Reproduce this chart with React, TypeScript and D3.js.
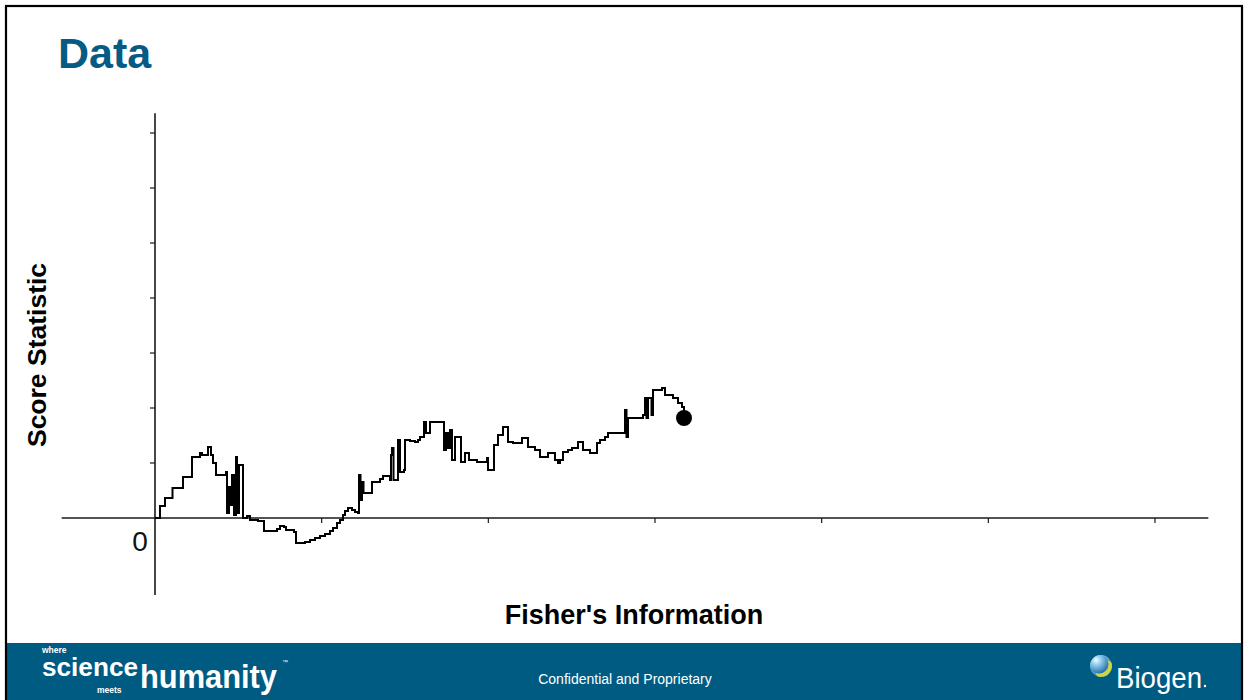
import React from "react";
import * as d3 from "d3";

// Fisher's information (x) and score statistic (y), step path
const info = [
  0, 0.3, 0.6, 1.05, 1.68, 2.22, 2.7, 2.82, 3.18, 3.36, 3.48, 3.66, 4.26, 4.32, 4.44, 4.5, 4.62, 4.74, 4.86, 4.92,
  5.04, 5.28, 5.52, 5.7, 6.18, 6.54, 7.32, 7.5, 7.74, 7.86, 8.34, 8.46, 9.0, 9.3, 9.6, 9.9, 10.2, 10.5, 10.68, 10.92,
  11.1, 11.28, 11.4, 11.58, 11.82, 12.0, 12.18, 12.24, 12.33, 12.42, 12.51, 13.02, 13.5, 13.68, 14.1, 14.16, 14.22, 14.31, 14.58, 14.7,
  14.94, 15.0, 15.3, 15.6, 15.78, 15.9, 16.14, 16.26, 16.5, 17.34, 17.46, 17.58, 17.7, 17.82, 18.0, 18.36, 18.6, 18.84, 19.32, 19.92,
  19.98, 20.34, 20.58, 20.88, 21.18, 21.48, 22.02, 22.38, 22.8, 23.1, 23.58, 24.0, 24.18, 24.3, 24.48, 24.78, 25.02, 25.38, 25.68, 26.1,
  26.52, 26.7, 27.0, 27.18, 28.2, 28.29, 28.38, 29.28, 29.4, 29.49, 29.58, 29.79, 29.88, 30.42, 30.6, 31.08, 31.38, 31.62, 31.74,
];
const score = [
  0, 2.18, 3.64, 5.45, 7.45, 11.09, 11.82, 11.45, 12.91, 11.45, 10.0, 7.82, 8.36, 0.91, 5.64, 2.36, 7.82, 0.55, 11.09, 0.91,
  9.64, 0, 0.36, -0.36, -0.55, -2.36, -2.0, -1.45, -1.64, -2.18, -2.55, -4.55, -4.36, -4.0, -3.64, -3.27, -2.91, -2.36, -1.82, -0.91,
  -0.36, 0.55, 1.27, 1.82, 1.45, 1.09, 0.91, 7.82, 3.27, 6.55, 4.55, 6.55, 7.09, 7.64, 6.91, 11.45, 12.73, 6.91, 14.18, 8.36,
  8.73, 14.18, 14.0, 13.82, 14.18, 14.73, 17.45, 15.45, 17.45, 12.36, 15.45, 12.73, 16.0, 10.55, 14.73, 10.18, 11.82, 10.55, 10.18, 10.91,
  8.73, 13.27, 15.09, 16.55, 13.82, 13.64, 14.55, 12.91, 12.36, 11.09, 11.82, 10.55, 10.0, 10.55, 12.0, 12.36, 12.73, 13.82, 12.36, 11.82,
  13.64, 14.18, 14.73, 15.45, 19.64, 14.73, 18.18, 18.73, 21.82, 18.18, 21.82, 18.73, 23.27, 23.64, 22.36, 21.82, 20.91, 20.18, 18.18,
];

const xTicks = [10, 20, 30, 40, 50, 60];
const yTicks = [10, 20, 30, 40, 50, 60, 70];
const zeroLabel = "0";
const title = "Data";
const yTitle = "Score Statistic";
const xTitle = "Fisher's Information";
const footerText = "Confidential and Proprietary";

export default function App() {
  const x = d3.scaleLinear().domain([0, 60]).range([155, 1155]);
  const y = d3.scaleLinear().domain([0, 70]).range([518, 133]);
  const pts: [number, number][] = info.map((v, i) => [v, score[i]]);
  const line = d3
    .line<[number, number]>()
    .x((d) => x(d[0]))
    .y((d) => y(d[1]))
    .curve(d3.curveStepAfter);
  const last = pts[pts.length - 1];
  const font = "'Liberation Sans', Arial, Helvetica, sans-serif";
  const axisColor = "#1a1a1a";

  return (
    <div style={{ position: "absolute", left: 0, top: 0, width: 1244, height: 700, background: "#fff" }}>
      <svg width={1244} height={700} style={{ display: "block" }} fontFamily={font}>
        <defs>
          <radialGradient id="bg1" cx="35%" cy="30%" r="75%">
            <stop offset="0%" stopColor="#f2fbff" />
            <stop offset="35%" stopColor="#8fcdee" />
            <stop offset="100%" stopColor="#1f6aa5" />
          </radialGradient>
          <clipPath id="orb">
            <circle cx={1101} cy={666} r={11} />
          </clipPath>
        </defs>
        <rect x={0} y={0} width={1244} height={700} fill="#fff" />
        {/* footer */}
        <rect x={6} y={643} width={1236} height={57} fill="#005b83" />
        {/* frame */}
        <rect x={6} y={6} width={1236} height={700} fill="none" stroke="#000" strokeWidth={2.2} />

        <text x={58} y={68} fontSize={43} fontWeight="bold" fill="#065b85">
          {title}
        </text>

        {/* axes */}
        <line x1={x(-5.6)} x2={x(63.2)} y1={y(0)} y2={y(0)} stroke={axisColor} strokeWidth={1.6} />
        <line x1={x(0)} x2={x(0)} y1={y(-14)} y2={y(73.6)} stroke={axisColor} strokeWidth={1.6} />
        {xTicks.map((t) => (
          <line key={"xt" + t} x1={x(t)} x2={x(t)} y1={y(0)} y2={y(0) + 5} stroke={axisColor} strokeWidth={1.2} />
        ))}
        {yTicks.map((t) => (
          <line key={"yt" + t} x1={x(0) - 5} x2={x(0)} y1={y(t)} y2={y(t)} stroke={axisColor} strokeWidth={1.2} />
        ))}
        <text x={140} y={551} fontSize={28} textAnchor="middle" fill="#111">
          {zeroLabel}
        </text>

        {/* data */}
        <path d={line(pts) || ""} fill="none" stroke="#000" strokeWidth={2} />
        <circle cx={x(last[0])} cy={y(last[1])} r={8} fill="#000" />

        {/* axis titles */}
        <text transform="translate(46,355) rotate(-90)" fontSize={26.5} fontWeight="bold" textAnchor="middle" fill="#000">
          {yTitle}
        </text>
        <text x={634} y={624} fontSize={27} fontWeight="bold" textAnchor="middle" fill="#000">
          {xTitle}
        </text>

        {/* footer content */}
        <text x={625} y={684} fontSize={14} textAnchor="middle" fill="#fff">
          {footerText}
        </text>
        <g fill="#fff" fontWeight="bold">
          <text x={42} y={653} fontSize={8.5}>where</text>
          <text x={42} y={676} fontSize={25} textLength={96} lengthAdjust="spacingAndGlyphs">science</text>
          <text x={97} y={693} fontSize={8.5}>meets</text>
          <text x={140} y={688} fontSize={34} textLength={137} lengthAdjust="spacingAndGlyphs">humanity</text>
          <text x={282} y={664} fontSize={6} fontWeight="normal">™</text>
        </g>
        <g>
          <circle cx={1101} cy={666} r={11} fill="url(#bg1)" />
          <g clipPath="url(#orb)">
            <circle cx={1105} cy={670} r={10} fill="#c9d64a" />
            <circle cx={1099} cy={664} r={9.5} fill="url(#bg1)" />
          </g>
          <text x={1116} y={688} fontSize={30} fill="#fff" textLength={86} lengthAdjust="spacingAndGlyphs">
            Biogen
          </text>
          <circle cx={1205} cy={686} r={1.2} fill="#fff" />
        </g>
      </svg>
    </div>
  );
}
